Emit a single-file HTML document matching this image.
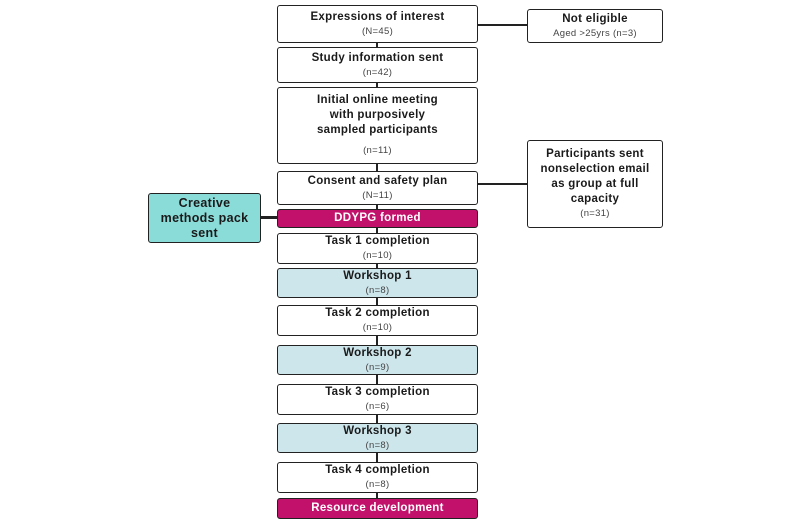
<!DOCTYPE html>
<html><head><style>
body{margin:0;width:800px;height:527px;background:#fff;position:relative;font-family:"Liberation Sans",sans-serif;overflow:hidden}
.b{position:absolute;box-sizing:border-box;border:1.6px solid #222;border-radius:3px;background:#fff;text-align:center;color:#1a1a1a;display:flex;flex-direction:column;justify-content:center;align-items:center}
.t{font-weight:bold;font-size:11.5px;letter-spacing:0.3px;line-height:15px}
.n{font-size:9.5px;color:#444;line-height:14px;letter-spacing:0.3px}
.m{left:277px;width:201px}
.bl{background:#cde6ec}
.pk{background:#c2116b;color:#fff}
.l{position:absolute;background:#222}
</style></head><body>
<div class="l" style="left:376px;top:40px;width:2px;height:470px"></div>
<div class="l" style="left:477px;top:24px;width:50px;height:2px"></div>
<div class="l" style="left:477px;top:183px;width:50px;height:2px"></div>
<div class="l" style="left:260px;top:216px;width:18px;height:3px"></div>

<div class="b m" style="top:5px;height:38px"><div class="t">Expressions of interest</div><div class="n">(N=45)</div></div>
<div class="b m" style="top:47px;height:36px"><div class="t">Study information sent</div><div class="n">(n=42)</div></div>
<div class="b m" style="top:87px;height:77px"><div class="t">Initial online meeting<br>with purposively<br>sampled participants</div><div class="n" style="margin-top:6px">(n=11)</div></div>
<div class="b m" style="top:171px;height:34px"><div class="t">Consent and safety plan</div><div class="n">(N=11)</div></div>
<div class="b m pk" style="top:209px;height:19px"><div class="t" style="color:#fff">DDYPG formed</div></div>
<div class="b m" style="top:233px;height:31px"><div class="t">Task 1 completion</div><div class="n">(n=10)</div></div>
<div class="b m bl" style="top:268px;height:30px"><div class="t">Workshop 1</div><div class="n">(n=8)</div></div>
<div class="b m" style="top:305px;height:31px"><div class="t">Task 2 completion</div><div class="n">(n=10)</div></div>
<div class="b m bl" style="top:345px;height:30px"><div class="t">Workshop 2</div><div class="n">(n=9)</div></div>
<div class="b m" style="top:384px;height:31px"><div class="t">Task 3 completion</div><div class="n">(n=6)</div></div>
<div class="b m bl" style="top:423px;height:30px"><div class="t">Workshop 3</div><div class="n">(n=8)</div></div>
<div class="b m" style="top:462px;height:31px"><div class="t">Task 4 completion</div><div class="n">(n=8)</div></div>
<div class="b m pk" style="top:498px;height:21px"><div class="t" style="color:#fff">Resource development</div></div>

<div class="b" style="left:527px;top:9px;width:136px;height:34px"><div class="t">Not eligible</div><div class="n">Aged &gt;25yrs (n=3)</div></div>
<div class="b" style="left:527px;top:140px;width:136px;height:88px"><div class="t">Participants sent<br>nonselection email<br>as group at full<br>capacity</div><div class="n">(n=31)</div></div>
<div class="b" style="left:148px;top:193px;width:113px;height:50px;background:#8adcd9"><div class="t" style="font-size:12.5px">Creative<br>methods pack<br>sent</div></div>
</body></html>
